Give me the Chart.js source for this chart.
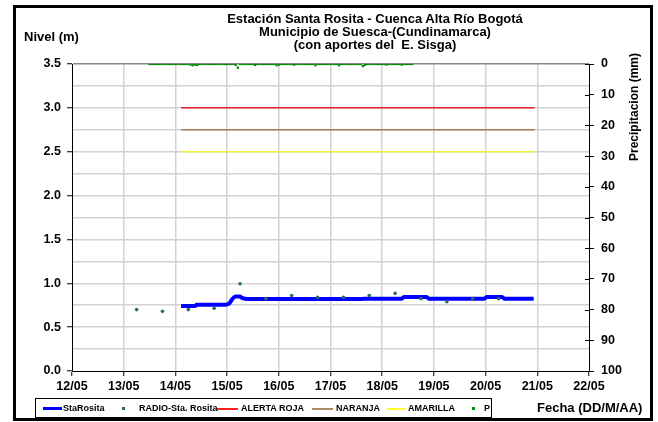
<!DOCTYPE html>
<html><head><meta charset="utf-8">
<script src="https://cdn.jsdelivr.net/npm/chart.js@4"></script>
<style>
html,body{margin:0;padding:0;background:#fff;}
#wrap{position:relative;width:658px;height:422px;overflow:hidden;font-family:"Liberation Sans",Arial,sans-serif;font-weight:bold;color:#000;}
#c{position:absolute;left:0;top:0;}
.t{position:absolute;white-space:nowrap;font-size:13px;line-height:14px;}
#frame{position:absolute;left:13px;top:5px;width:640px;height:416px;border:3px solid #000;box-sizing:border-box;}
#title{left:125px;width:500px;top:12px;text-align:center;line-height:13px;}
#ylab{left:24px;top:30px;}
#xlab{left:537px;top:401px;}
#y2lab{left:627px;top:161px;font-size:12px;transform-origin:0 0;transform:rotate(-90deg);}
#legend{position:absolute;left:35px;top:398px;width:457px;height:20px;border:1px solid #000;box-sizing:border-box;}
.li{position:absolute;top:4px;font-size:9px;line-height:11px;white-space:nowrap;}
.sw{position:absolute;top:9px;height:2px;}
.dot{position:absolute;top:8px;width:3px;height:3px;}
</style></head>
<body><div id="wrap">
<canvas id="c" width="658" height="422"></canvas>
<div id="frame"></div>
<div class="t" id="title">Estación Santa Rosita - Cuenca Alta Río Bogotá<br>Municipio de Suesca-(Cundinamarca)<br>(con aportes del&nbsp; E. Sisga)</div>
<div class="t" id="ylab">Nivel (m)</div>
<div class="t" id="xlab">Fecha (DD/M/AA)</div>
<div class="t" id="y2lab">Precipitacion (mm)</div>
<div id="legend">
  <div class="sw" style="left:7px;width:19px;height:3px;top:8px;background:#0000ff"></div><div class="li" style="left:27px">StaRosita</div>
  <div class="dot" style="left:86px;background:#2e6b5e"></div><div class="li" style="left:103px">RADIO-Sta. Rosita</div>
  <div class="sw" style="left:181px;width:21px;background:#ff2020"></div><div class="li" style="left:205px">ALERTA ROJA</div>
  <div class="sw" style="left:276px;width:21px;background:#b08a60"></div><div class="li" style="left:300px">NARANJA</div>
  <div class="sw" style="left:351px;width:19px;background:#ffff30"></div><div class="li" style="left:372px">AMARILLA</div>
  <div class="dot" style="left:436px;background:#009000"></div><div class="li" style="left:448px">P</div>
</div>
</div>
<script>
// ---- data ----
const xTickLabels = ['12/05','13/05','14/05','15/05','16/05','17/05','18/05','19/05','20/05','21/05','22/05'];
// day-of-month as decimal (12.0 = 12/05 00:00)
const staTime  = [14.11,14.38,14.41,14.96,15.04,15.10,15.16,15.24,15.30,15.40,17.60,17.64,18.38,18.42,18.86,18.90,19.98,20.02,20.32,20.36,20.93];
const staLevel = [0.74,0.74,0.755,0.755,0.77,0.82,0.85,0.85,0.83,0.82,0.82,0.825,0.825,0.845,0.845,0.825,0.825,0.845,0.845,0.825,0.825];
const radioTime  = [13.25,13.75,14.25,14.75,15.25,15.75,16.25,16.75,17.25,17.75,18.25,18.75,19.25,19.75,20.25];
const radioLevel = [0.70,0.68,0.70,0.715,0.995,0.825,0.86,0.84,0.84,0.86,0.885,0.825,0.79,0.825,0.825];
const alertStart = 14.11, alertEnd = 20.95;
const alertaRoja = 3.0, naranja = 2.75, amarilla = 2.5;
// hourly precipitation (mm) from 13/05 12:00
const pStart = 13.5;
const pValues = [
 0,0,0,0,0,0,0,0,0,0,0,0,
 0,0,0,0,0,0,0,0.2,0.4,0.2,0.3,0,
 0,0,0,0,0,0,0,0,0,0,0,0,
 0,0,0,0,0.3,1.2,0,0,0,0,0,0,
 0,0.3,0,0,0,0,0,0,0,0,0,0.4,
 0.2,0,0,0,0,0,0,0.2,0,0,0,0,
 0,0,0,0,0,0.4,0,0,0,0,0,0,
 0,0,0,0,0.4,0,0,0,0,0,0,0,
 0,0,0,0.7,0.3,0,0,0,0,0,0,0,
 0,0,0.2,0,0,0,0,0,0,0.2,0,0,
 0,0,0
];

const pts = (xs, ys) => xs.map((x, i) => ({x, y: ys[i]}));
const pData = pValues.map((v, i) => ({x: pStart + i / 24, y: v}));

const L = 72, R = 589, T = 64, B = 371, W = 658, H = 422;
const tickFont = {family: 'Liberation Sans', size: 12.5, weight: 'bold'};
const isMajor = v => Math.abs(v * 2 - Math.round(v * 2)) < 1e-6;

const innerTicks = {
  id: 'innerTicks',
  afterDatasetsDraw(chart) {
    const s = chart.scales.y2, ctx = chart.ctx;
    ctx.save(); ctx.strokeStyle = '#000'; ctx.lineWidth = 1;
    s.ticks.forEach(t => {
      const y = Math.round(s.getPixelForValue(t.value)) + 0.5;
      ctx.beginPath(); ctx.moveTo(s.left - 4, y); ctx.lineTo(s.left, y); ctx.stroke();
    });
    ctx.restore();
  }
};

new Chart(document.getElementById('c'), {
  type: 'line',
  data: {
    datasets: [
      {label: 'RADIO-Sta. Rosita', data: pts(radioTime, radioLevel), showLine: false, pointRadius: 1.8, pointBackgroundColor: '#2e6b5e', pointBorderWidth: 0, yAxisID: 'y', order: 0},
      {label: 'P', data: pData, showLine: false, pointStyle: 'rect', pointRadius: 1.6, pointBackgroundColor: '#008a00', pointBorderWidth: 0, yAxisID: 'y2', order: 1},
      {label: 'StaRosita', data: pts(staTime, staLevel), borderColor: '#0000ff', borderWidth: 4, pointRadius: 0, cubicInterpolationMode: 'monotone', yAxisID: 'y', order: 2},
      {label: 'ALERTA ROJA', data: [{x: alertStart, y: alertaRoja}, {x: alertEnd, y: alertaRoja}], borderColor: '#e8202a', borderWidth: 1.5, pointRadius: 0, yAxisID: 'y', order: 3},
      {label: 'NARANJA', data: [{x: alertStart, y: naranja}, {x: alertEnd, y: naranja}], borderColor: '#a87c54', borderWidth: 1.5, pointRadius: 0, yAxisID: 'y', order: 3},
      {label: 'AMARILLA', data: [{x: alertStart, y: amarilla}, {x: alertEnd, y: amarilla}], borderColor: '#f2f23a', borderWidth: 1.5, pointRadius: 0, yAxisID: 'y', order: 3}
    ]
  },
  options: {
    responsive: false, animation: false, devicePixelRatio: 1,
    layout: {padding: {left: 0, right: 0, top: T, bottom: 0}},
    plugins: {legend: {display: false}, title: {display: false}, tooltip: {enabled: false}},
    scales: {
      x: {
        type: 'linear', min: 12, max: 22,
        afterFit: s => { s.height = H - B; },
        ticks: {stepSize: 1, font: tickFont, color: '#000', padding: 3, maxRotation: 0,
          callback: v => xTickLabels[Math.round(v) - 12]},
        grid: {color: c => (c.tick && (c.tick.value === 12 || c.tick.value === 22)) ? 'rgba(0,0,0,0)' : '#d2d2d2',
          lineWidth: 1.5, tickColor: '#000', tickLength: 5, tickWidth: 1},
        border: {display: true, color: '#000', width: 1}
      },
      y: {
        position: 'left', min: 0, max: 3.5,
        afterFit: s => { s.width = L; },
        ticks: {stepSize: 0.25, font: tickFont, color: '#000', padding: 6,
          callback: v => isMajor(v) ? v.toFixed(1) : ''},
        grid: {
          color: c => (c.tick && Math.abs(c.tick.value - 3.5) < 1e-6) ? '#8a8a8a' : (c.tick && c.tick.value === 0 ? 'rgba(0,0,0,0)' : '#d2d2d2'),
          lineWidth: 1.5,
          tickColor: c => (c.tick && isMajor(c.tick.value)) ? '#000' : 'rgba(0,0,0,0)',
          tickLength: 5, tickWidth: 1},
        border: {display: true, color: '#000', width: 1}
      },
      y2: {
        position: 'right', min: 0, max: 100, reverse: true,
        afterFit: s => { s.width = W - R; },
        ticks: {stepSize: 10, font: tickFont, color: '#000', padding: 7},
        grid: {drawOnChartArea: false, tickColor: '#000', tickLength: 5, tickWidth: 1},
        border: {display: true, color: '#000', width: 1}
      }
    }
  },
  plugins: [innerTicks]
});
</script>
</body></html>
